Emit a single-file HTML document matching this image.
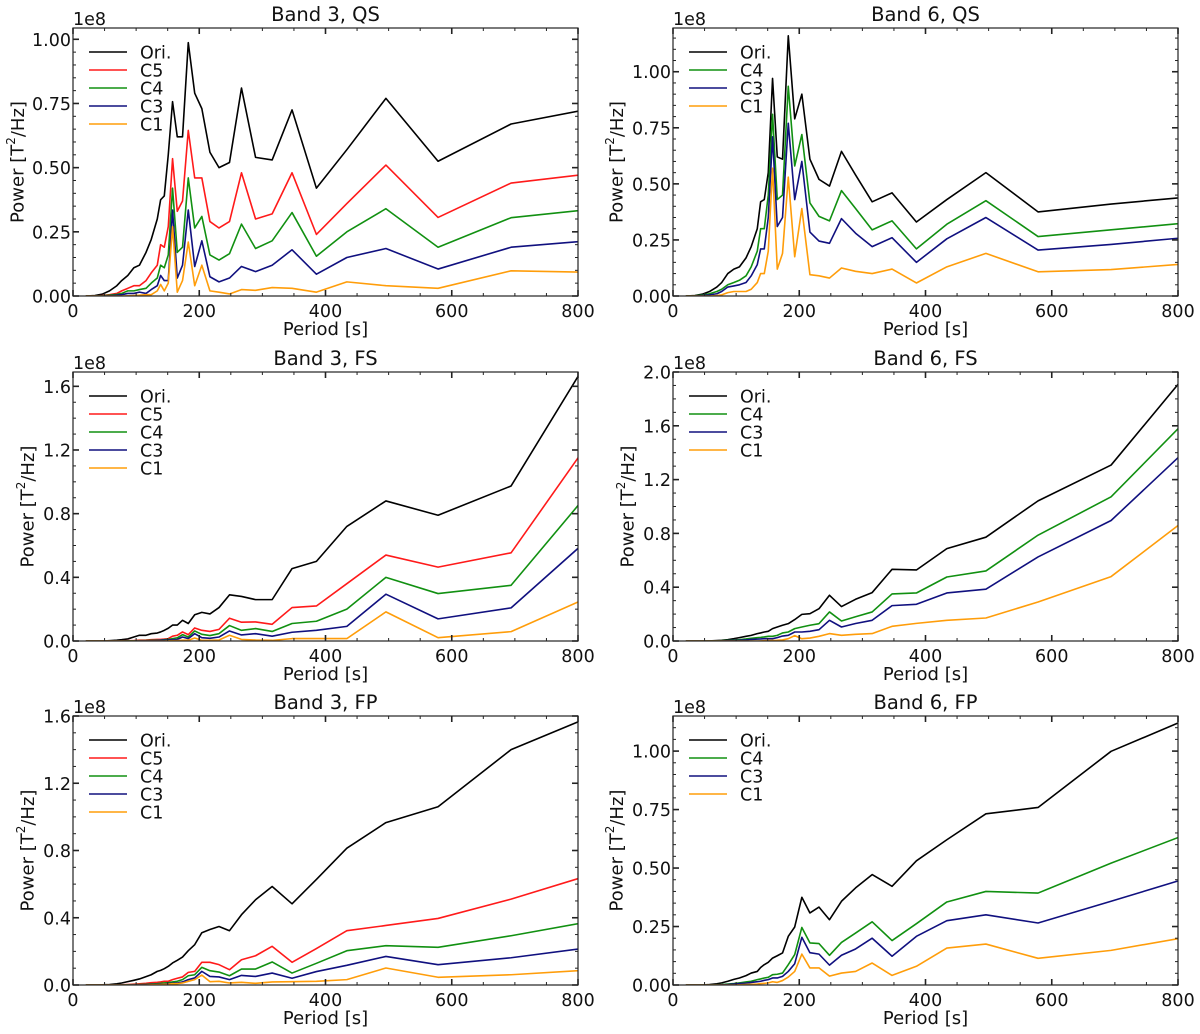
<!DOCTYPE html>
<html><head><meta charset="utf-8"><style>
html,body{margin:0;padding:0;background:#fff;}
svg{display:block;font-family:"DejaVu Sans","Liberation Sans",sans-serif;}
</style></head><body>
<svg id="fig" width="1200" height="1034" viewBox="0 0 1200 1034" xmlns="http://www.w3.org/2000/svg"></svg>
<script>
// shared period sampling (s)
const periods = [867.5,694,578.3,495.7,433.8,385.6,347,315.5,289.2,266.9,247.9,231.3,216.9,204.1,192.8,182.6,173.5,165.2,157.7,150.9,144.6,138.8,133.5,123.9,115.7,105.2,96.4,86.8,77.1,69.4,57.8,46.3,34.7,20.4];
const xTicks = [0,200,400,600,800];
const seriesNames = ["Ori.","C5","C4","C3","C1"];
// Band 3, QS
const b3qsOri = [0.752,0.67,0.525,0.77,0.57,0.42,0.725,0.53,0.54,0.81,0.52,0.50,0.56,0.73,0.79,0.987,0.62,0.62,0.757,0.55,0.39,0.375,0.30,0.22,0.17,0.12,0.11,0.08,0.06,0.04,0.02,0.007,0.002,0];
const b3qsC5 = [0.49,0.44,0.306,0.51,0.36,0.24,0.48,0.32,0.30,0.48,0.29,0.265,0.29,0.46,0.46,0.645,0.37,0.33,0.535,0.27,0.19,0.20,0.12,0.09,0.06,0.04,0.04,0.03,0.02,0.01,0.005,0.002,0,0];
const b3qsC4 = [0.35,0.305,0.19,0.34,0.25,0.155,0.325,0.215,0.185,0.28,0.165,0.14,0.16,0.31,0.265,0.46,0.19,0.17,0.42,0.16,0.11,0.12,0.07,0.05,0.03,0.025,0.02,0.02,0.01,0.006,0.003,0.001,0,0];
const b3qsC3 = [0.225,0.19,0.105,0.185,0.15,0.085,0.18,0.12,0.095,0.115,0.07,0.055,0.075,0.215,0.115,0.335,0.12,0.07,0.335,0.06,0.06,0.08,0.04,0.025,0.01,0.015,0.01,0.01,0.005,0.003,0.001,0,0,0];
const b3qsC1 = [0.09,0.098,0.03,0.04,0.055,0.015,0.03,0.033,0.022,0.025,0.008,0.015,0.02,0.12,0.04,0.21,0.06,0.015,0.27,0.05,0.02,0.045,0.02,0.005,0.005,0.003,0.002,0.001,0,0,0,0,0,0];
// Band 6, QS
const b6qsOri = [0.455,0.41,0.375,0.55,0.43,0.33,0.46,0.42,0.54,0.645,0.49,0.52,0.61,0.90,0.79,1.16,0.61,0.62,0.97,0.55,0.43,0.42,0.30,0.22,0.17,0.13,0.12,0.10,0.06,0.04,0.02,0.008,0.002,0];
const b6qsC4 = [0.34,0.295,0.265,0.425,0.32,0.21,0.335,0.295,0.39,0.47,0.335,0.355,0.415,0.72,0.58,0.935,0.45,0.43,0.81,0.45,0.30,0.30,0.20,0.13,0.09,0.07,0.06,0.05,0.03,0.02,0.01,0.004,0.001,0];
const b6qsC3 = [0.275,0.23,0.205,0.35,0.255,0.15,0.26,0.22,0.28,0.345,0.235,0.245,0.285,0.60,0.43,0.77,0.35,0.31,0.71,0.35,0.21,0.21,0.14,0.09,0.06,0.05,0.045,0.04,0.02,0.01,0.005,0.002,0,0];
const b6qsC1 = [0.155,0.118,0.108,0.19,0.13,0.058,0.12,0.10,0.11,0.125,0.08,0.09,0.095,0.39,0.175,0.53,0.19,0.12,0.57,0.20,0.10,0.10,0.06,0.03,0.02,0.02,0.02,0.015,0.005,0.002,0,0,0,0];
// Band 3, FS
const b3fsOri = [2.10,0.974,0.79,0.88,0.72,0.50,0.455,0.26,0.26,0.28,0.29,0.21,0.17,0.18,0.165,0.11,0.13,0.10,0.10,0.08,0.067,0.057,0.05,0.046,0.036,0.036,0.025,0.013,0.008,0.005,0.002,0,0,0];
const b3fsC5 = [1.53,0.554,0.464,0.54,0.36,0.22,0.21,0.105,0.12,0.118,0.143,0.073,0.06,0.067,0.082,0.04,0.057,0.036,0.03,0.015,0.012,0.01,0.01,0.008,0.006,0.005,0.003,0.002,0.001,0,0,0,0,0];
const b3fsC4 = [1.17,0.35,0.298,0.40,0.20,0.124,0.11,0.06,0.078,0.067,0.097,0.046,0.034,0.042,0.063,0.025,0.04,0.02,0.015,0.01,0.008,0.006,0.005,0.004,0.003,0.002,0.001,0.001,0,0,0,0,0,0];
const b3fsC3 = [0.82,0.208,0.139,0.294,0.092,0.067,0.055,0.03,0.046,0.038,0.063,0.025,0.017,0.021,0.046,0.015,0.025,0.01,0.008,0.006,0.005,0.004,0.003,0.002,0.001,0.001,0,0,0,0,0,0,0,0];
const b3fsC1 = [0.364,0.059,0.021,0.183,0.015,0.015,0.015,0.004,0.006,0.01,0.036,0.006,0.004,0.004,0.019,0.005,0.005,0.003,0.002,0.001,0,0,0,0,0,0,0,0,0,0,0,0,0,0];
// Band 6, FS
const b6fsOri = [2.29,1.308,1.042,0.772,0.687,0.528,0.533,0.36,0.31,0.256,0.34,0.24,0.203,0.198,0.159,0.129,0.117,0.104,0.092,0.072,0.067,0.06,0.055,0.042,0.035,0.025,0.017,0.01,0.005,0.003,0.001,0,0,0];
const b6fsC4 = [1.90,1.072,0.787,0.521,0.476,0.357,0.35,0.216,0.18,0.149,0.216,0.129,0.117,0.104,0.092,0.067,0.06,0.042,0.035,0.035,0.03,0.027,0.025,0.02,0.015,0.01,0.007,0.004,0.002,0.001,0,0,0,0];
const b6fsC3 = [1.66,0.896,0.625,0.385,0.357,0.273,0.263,0.154,0.13,0.104,0.154,0.084,0.072,0.067,0.067,0.042,0.037,0.025,0.017,0.017,0.017,0.015,0.014,0.012,0.008,0.005,0.004,0.002,0.001,0,0,0,0,0];
const b6fsC1 = [1.10,0.479,0.29,0.171,0.154,0.131,0.109,0.055,0.05,0.042,0.055,0.035,0.022,0.017,0.04,0.017,0.008,0.005,0.004,0.003,0.002,0.001,0,0,0,0,0,0,0,0,0,0,0,0];
// Band 3, FP
const b3fpOri = [1.67,1.40,1.06,0.966,0.814,0.628,0.483,0.586,0.507,0.418,0.323,0.348,0.33,0.311,0.24,0.204,0.166,0.147,0.131,0.111,0.097,0.087,0.081,0.061,0.05,0.036,0.028,0.02,0.012,0.007,0.003,0.001,0,0];
const b3fpC5 = [0.71,0.511,0.396,0.354,0.323,0.217,0.135,0.23,0.174,0.15,0.091,0.121,0.135,0.135,0.081,0.075,0.048,0.04,0.032,0.022,0.022,0.018,0.016,0.014,0.01,0.007,0.005,0.003,0.001,0,0,0,0,0];
const b3fpC4 = [0.41,0.293,0.224,0.234,0.204,0.129,0.071,0.137,0.095,0.095,0.055,0.077,0.085,0.105,0.061,0.055,0.032,0.022,0.018,0.014,0.012,0.01,0.008,0.006,0.004,0.003,0.002,0.001,0,0,0,0,0,0];
const b3fpC3 = [0.247,0.162,0.121,0.17,0.117,0.08,0.04,0.071,0.051,0.057,0.032,0.048,0.051,0.081,0.042,0.032,0.018,0.012,0.01,0.008,0.006,0.005,0.004,0.003,0.002,0.001,0.001,0,0,0,0,0,0,0];
const b3fpC1 = [0.1,0.061,0.046,0.101,0.032,0.022,0.02,0.018,0.01,0.016,0.012,0.022,0.02,0.059,0.032,0.022,0.012,0.008,0.008,0.005,0.004,0.003,0.002,0.001,0,0,0,0,0,0,0,0,0,0];
// Band 6, FP
const b6fpOri = [1.197,0.999,0.759,0.732,0.621,0.531,0.422,0.472,0.415,0.358,0.279,0.333,0.308,0.375,0.248,0.208,0.137,0.125,0.115,0.097,0.087,0.075,0.058,0.051,0.04,0.03,0.024,0.016,0.009,0.005,0.002,0,0,0];
const b6fpC4 = [0.70,0.521,0.393,0.40,0.355,0.262,0.19,0.27,0.222,0.182,0.127,0.177,0.18,0.246,0.13,0.087,0.051,0.046,0.044,0.033,0.03,0.026,0.023,0.016,0.013,0.009,0.006,0.004,0.002,0.001,0,0,0,0];
const b6fpC3 = [0.50,0.358,0.265,0.30,0.275,0.208,0.123,0.20,0.154,0.127,0.085,0.132,0.138,0.204,0.091,0.058,0.037,0.03,0.03,0.023,0.02,0.016,0.014,0.011,0.008,0.006,0.004,0.002,0.001,0,0,0,0,0];
const b6fpC1 = [0.23,0.148,0.114,0.175,0.158,0.08,0.041,0.094,0.058,0.051,0.038,0.073,0.073,0.132,0.058,0.034,0.019,0.011,0.014,0.009,0.007,0.006,0.004,0.003,0.002,0.001,0,0,0,0,0,0,0,0];
// y tick labels per panel
const yTicksQS3 = ["0.00","0.25","0.50","0.75","1.00"];
const yTicksQS6 = ["0.00","0.25","0.50","0.75","1.00"];
const yTicksFS3 = ["0.0","0.4","0.8","1.2","1.6"];
const yTicksFS6 = ["0.0","0.4","0.8","1.2","1.6","2.0"];
const yTicksFP3 = ["0.0","0.4","0.8","1.2","1.6"];
const yTicksFP6 = ["0.00","0.25","0.50","0.75","1.00"];

const COLORS = {"Ori.":"#000000","C5":"#ff1a1a","C4":"#119011","C3":"#10107f","C1":"#ff9d0a"};
const NS = "http://www.w3.org/2000/svg";
const svg = document.getElementById('fig');
function mk(tag, attrs, parent){const e=document.createElementNS(NS,tag);for(const k in attrs)e.setAttribute(k,attrs[k]);(parent||svg).appendChild(e);return e;}

const panels = [
 {id:"b3qs",title:"Band 3, QS",x0:73,x1:578,top:28,bot:296,ymax:1.044,yt:yTicksQS3,minor:0.05,ylx:18,names:["Ori.","C5","C4","C3","C1"],data:[b3qsOri,b3qsC5,b3qsC4,b3qsC3,b3qsC1]},
 {id:"b6qs",title:"Band 6, QS",x0:673,x1:1178,top:28,bot:296,ymax:1.195,yt:yTicksQS6,minor:0.05,ylx:617,names:["Ori.","C4","C3","C1"],data:[b6qsOri,b6qsC4,b6qsC3,b6qsC1]},
 {id:"b3fs",title:"Band 3, FS",x0:73,x1:578,top:372,bot:641,ymax:1.69,yt:yTicksFS3,minor:0.1,ylx:28,names:["Ori.","C5","C4","C3","C1"],data:[b3fsOri,b3fsC5,b3fsC4,b3fsC3,b3fsC1]},
 {id:"b6fs",title:"Band 6, FS",x0:673,x1:1178,top:372,bot:641,ymax:2.0,yt:yTicksFS6,minor:0.1,ylx:628,names:["Ori.","C4","C3","C1"],data:[b6fsOri,b6fsC4,b6fsC3,b6fsC1]},
 {id:"b3fp",title:"Band 3, FP",x0:73,x1:578,top:716,bot:985,ymax:1.6,yt:yTicksFP3,minor:0.1,ylx:28,names:["Ori.","C5","C4","C3","C1"],data:[b3fpOri,b3fpC5,b3fpC4,b3fpC3,b3fpC1]},
 {id:"b6fp",title:"Band 6, FP",x0:673,x1:1178,top:716,bot:985,ymax:1.15,yt:yTicksFP6,minor:0.05,ylx:617,names:["Ori.","C4","C3","C1"],data:[b6fpOri,b6fpC4,b6fpC3,b6fpC1]}
];

panels.forEach(p=>{
  const g = mk('g',{});
  
  
  const X = v => p.x0 + (v/800)*(p.x1-p.x0);
  const Y = v => p.bot - (v/p.ymax)*(p.bot-p.top);
  const cp = mk('clipPath',{id:'clip-'+p.id},g);
  mk('rect',{x:p.x0,y:p.top,width:p.x1-p.x0,height:p.bot-p.top},cp);
  // series
  p.data.forEach((arr,i)=>{
    const name = p.names[i];
    const pts = arr.map((v,j)=>X(periods[j]).toFixed(2)+','+Y(v).toFixed(2)).join(' ');
    const pl = mk('polyline',{points:pts,fill:'none',stroke:COLORS[name],'stroke-width':1.6,'stroke-linejoin':'round','clip-path':'url(#clip-'+p.id+')'},g);
    
    
  });
  // frame
  const fr = mk('rect',{x:p.x0,y:p.top,width:p.x1-p.x0,height:p.bot-p.top,fill:'none',stroke:'#222','stroke-width':1.2},g);
  
  
  // x ticks
  for(let v=0; v<=800; v+=50){
    const major = v%200===0, L = major?6:3, x=X(v);
    mk('line',{x1:x,y1:p.bot,x2:x,y2:p.bot-L,stroke:'#222','stroke-width':major?1.6:1},g);
    mk('line',{x1:x,y1:p.top,x2:x,y2:p.top+L,stroke:'#222','stroke-width':major?1.6:1},g);
  }
  xTicks.forEach(v=>{
    const t = mk('text',{x:X(v),y:p.bot+21,'font-size':17.5,'text-anchor':'middle',fill:'#111'},g);
    t.textContent = v;
    
    
  });
  // y ticks
  const ymaxTick = parseFloat(p.yt[p.yt.length-1]);
  for(let v=0; v<=p.ymax+1e-9; v+=p.minor){
    const y=Y(v);
    mk('line',{x1:p.x0,y1:y,x2:p.x0+3,y2:y,stroke:'#222','stroke-width':1},g);
    mk('line',{x1:p.x1,y1:y,x2:p.x1-3,y2:y,stroke:'#222','stroke-width':1},g);
  }
  p.yt.forEach(s=>{
    const v=parseFloat(s), y=Y(v);
    mk('line',{x1:p.x0,y1:y,x2:p.x0+6,y2:y,stroke:'#222','stroke-width':1.6},g);
    mk('line',{x1:p.x1,y1:y,x2:p.x1-6,y2:y,stroke:'#222','stroke-width':1.6},g);
    const t = mk('text',{x:p.x0-2,y:y+6.5,'font-size':17.5,'text-anchor':'end',fill:'#111'},g);
    t.textContent = s;
    
    
  });
  // 1e8 offset
  const off = mk('text',{x:p.x0,y:p.top-3,'font-size':17.5,fill:'#111'},g);
  off.textContent='1e8';
  
  
  // title
  const ti = mk('text',{x:(p.x0+p.x1)/2,y:p.top-7,'font-size':19.5,'text-anchor':'middle',fill:'#111'},g);
  ti.textContent=p.title;
  
  
  // x label
  const xl = mk('text',{x:(p.x0+p.x1)/2,y:p.bot+39,'font-size':18,'text-anchor':'middle',fill:'#111'},g);
  xl.textContent='Period [s]';
  
  
  // y label
  const cy=(p.top+p.bot)/2;
  const yl = mk('text',{x:p.ylx,y:cy,'font-size':18,'text-anchor':'middle',fill:'#111',transform:'rotate(-90 '+p.ylx+' '+cy+')','dominant-baseline':'central'},g);
  yl.innerHTML='Power [T<tspan font-size="12" dy="-7">2</tspan><tspan dy="7">/Hz]</tspan>';
  
  
  // legend
  p.names.forEach((name,i)=>{
    const ly = p.top+24+i*18;
    const le = mk('g',{},g);
    
    
    mk('line',{x1:p.x0+16,y1:ly,x2:p.x0+54,y2:ly,stroke:COLORS[name],'stroke-width':1.6},le);
    const lt = mk('text',{x:p.x0+67,y:ly+6.5,'font-size':17.5,fill:'#111'},le);
    lt.textContent=name;
  });
});
</script>
</body></html>
